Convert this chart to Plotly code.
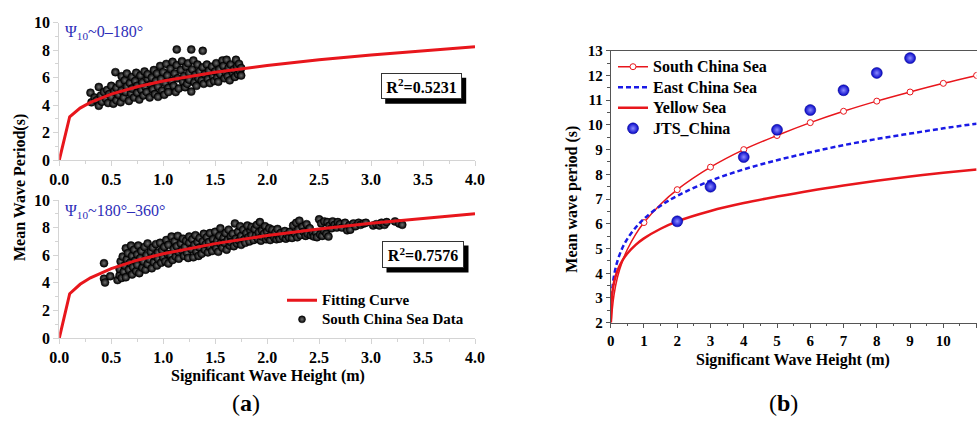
import plotly.graph_objects as go

# ---------------- Panel (a) data ----------------
FIT_H = [0, 0.1, 0.2, 0.3, 0.5, 0.75, 1.0, 1.5, 2.0, 2.5, 3.0, 3.5, 4.0]
FIT_T_TOP = [0, 3.15, 3.78, 4.19, 4.80, 5.33, 5.75, 6.39, 6.88, 7.30, 7.65, 7.97, 8.25]
FIT_T_BOT = [0, 3.21, 3.89, 4.36, 5.03, 5.64, 6.11, 6.84, 7.42, 7.90, 8.31, 8.68, 9.00]

TOP_PTS = [
    (0.30,4.90),(0.31,4.20),(0.34,4.55),(0.36,4.35),(0.38,5.32),(0.38,3.95),(0.40,4.70),(0.41,4.25),(0.43,4.95),
    (0.45,4.45),(0.46,5.10),(0.47,4.15),(0.48,4.80),(0.50,5.40),(0.50,4.60),(0.52,4.10),(0.53,5.00),(0.54,6.40),(0.55,4.35),(0.55,5.25),
    (0.57,4.75),(0.58,5.55),(0.59,4.20),(0.60,6.10),(0.60,5.05),(0.62,4.55),(0.63,5.80),(0.64,4.95),(0.65,6.30),(0.65,5.35),
    (0.67,4.30),(0.68,5.60),(0.69,4.85),(0.70,6.05),(0.70,5.20),(0.72,4.55),(0.73,5.75),(0.74,6.35),(0.75,4.90),(0.75,5.40),
    (0.77,4.40),(0.78,6.15),(0.79,5.10),(0.80,5.65),(0.81,4.70),(0.82,6.45),(0.83,5.30),(0.84,4.95),(0.85,5.90),(0.85,6.25),
    (0.87,4.55),(0.88,5.50),(0.89,6.00),(0.90,5.15),(0.91,6.55),(0.92,4.80),(0.93,5.75),(0.94,6.30),(0.95,5.35),(0.95,4.60),
    (0.97,6.85),(0.98,5.90),(0.99,5.05),(1.00,6.40),(1.01,4.75),(1.02,5.60),(1.03,7.00),(1.04,6.15),(1.05,5.25),(1.05,4.95),
    (1.07,6.65),(1.08,5.75),(1.09,7.15),(1.10,5.40),(1.11,6.30),(1.12,4.95),(1.13,8.05),(1.13,6.90),(1.14,5.95),(1.15,5.20),
    (1.17,6.55),(1.18,7.20),(1.19,5.70),(1.20,6.10),(1.21,5.30),(1.22,6.80),(1.23,5.55),(1.24,7.05),(1.25,6.35),(1.25,5.85),
    (1.27,8.05),(1.27,4.98),(1.28,6.60),(1.29,7.25),(1.30,5.65),(1.31,6.20),(1.32,5.40),(1.33,6.95),(1.34,5.95),(1.35,6.45),
    (1.37,5.80),(1.38,7.95),(1.38,6.75),(1.39,5.55),(1.40,6.25),(1.42,6.95),(1.43,5.90),(1.44,6.50),(1.45,5.60),
    (1.47,6.80),(1.48,6.10),(1.49,5.75),(1.50,6.45),(1.51,7.05),(1.52,6.00),(1.53,5.70),(1.54,6.60),(1.55,6.25),
    (1.57,7.25),(1.58,6.85),(1.59,5.95),(1.60,6.40),(1.61,7.30),(1.62,6.10),(1.63,6.70),(1.64,5.80),(1.65,6.95),
    (1.67,6.35),(1.68,6.60),(1.69,6.05),(1.70,7.30),(1.71,6.80),(1.72,6.25),(1.73,7.00),(1.74,6.45),(1.75,6.15),(1.75,6.70),
]

BOT_PTS = [
    (0.43,5.42),(0.43,4.30),(0.44,4.02),(0.49,4.48),
    (0.56,4.20),(0.58,4.55),(0.58,5.00),(0.59,5.55),(0.60,4.35),(0.61,5.90),(0.62,4.80),(0.63,5.25),(0.64,6.50),(0.64,4.40),(0.65,5.70),(0.66,6.15),
    (0.67,4.95),(0.68,5.45),(0.69,6.70),(0.70,4.60),(0.70,5.95),(0.71,5.15),(0.72,6.40),(0.73,5.60),(0.74,4.85),(0.75,6.05),(0.75,5.30),(0.76,6.70),
    (0.77,4.70),(0.78,5.80),(0.79,6.30),(0.80,5.10),(0.81,5.55),(0.82,6.60),(0.83,4.95),(0.84,6.00),(0.85,5.35),(0.85,6.85),
    (0.87,5.70),(0.88,6.25),(0.89,5.05),(0.90,6.55),(0.91,5.50),(0.92,5.95),(0.93,6.80),(0.94,5.25),(0.95,6.20),(0.95,5.75),
    (0.97,6.90),(0.98,5.45),(0.99,6.35),(1.00,5.85),(1.01,6.60),(1.02,5.55),(1.03,7.10),(1.04,6.10),(1.05,5.40),(1.05,6.75),
    (1.07,6.00),(1.08,7.35),(1.09,5.65),(1.10,6.45),(1.11,7.00),(1.12,5.90),(1.13,6.65),(1.14,7.40),(1.15,6.20),(1.15,5.75),
    (1.17,6.85),(1.18,6.35),(1.19,7.20),(1.20,5.95),(1.21,6.60),(1.22,7.05),(1.23,6.15),(1.24,5.80),(1.25,6.90),(1.25,7.35),
    (1.27,6.45),(1.28,7.15),(1.29,5.85),(1.30,6.75),(1.31,7.45),(1.32,6.25),(1.33,6.95),(1.34,5.95),(1.35,7.25),(1.35,6.55),
    (1.37,6.10),(1.38,7.00),(1.39,7.55),(1.40,6.40),(1.41,6.80),(1.42,7.30),(1.43,6.20),(1.44,6.95),(1.45,7.60),(1.45,6.60),
    (1.47,6.30),(1.48,7.15),(1.49,6.75),(1.50,7.70),(1.51,6.50),(1.52,7.05),(1.53,6.25),(1.54,7.40),(1.55,6.85),(1.55,7.95),
    (1.57,6.55),(1.58,7.25),(1.59,6.90),(1.60,7.60),(1.61,6.40),(1.62,7.10),(1.63,7.85),(1.64,6.70),(1.65,7.35),(1.65,6.95),
    (1.67,7.55),(1.68,6.65),(1.69,8.30),(1.70,7.20),(1.71,6.85),(1.72,7.70),(1.73,7.05),(1.74,8.10),(1.75,7.40),(1.75,6.75),
    (1.77,7.85),(1.78,7.15),(1.79,6.90),(1.80,7.60),(1.81,8.15),(1.82,7.30),(1.83,7.00),(1.84,7.75),(1.85,8.05),(1.85,7.45),
    (1.87,7.10),(1.88,7.90),(1.89,7.40),(1.90,8.20),(1.91,7.20),(1.92,7.65),(1.93,8.40),(1.94,7.05),(1.95,7.80),(1.95,7.35),
    (1.97,7.55),(1.98,8.10),(1.99,7.15),(2.00,7.70),(2.01,7.30),(2.02,7.95),(2.03,7.10),(2.04,7.50),(2.05,7.85),
    (2.07,7.25),(2.08,7.65),(2.09,7.15),(2.10,7.90),(2.11,7.40),(2.12,7.20),(2.13,7.60),(2.15,7.35),
    (2.17,7.75),(2.18,7.20),(2.19,7.50),(2.21,7.30),(2.22,7.70),(2.24,7.25),(2.25,8.15),
    (2.27,7.55),(2.28,8.35),(2.29,7.30),(2.30,7.85),(2.31,8.50),(2.32,7.45),(2.34,8.05),(2.35,7.70),
    (2.37,7.40),(2.38,8.25),(2.39,7.55),(2.41,7.95),(2.42,7.45),(2.44,7.60),(2.45,7.35),
    (2.47,7.65),(2.48,7.30),(2.50,8.60),(2.51,7.50),(2.52,8.30),(2.53,7.40),(2.55,7.75),(2.55,8.45),
    (2.57,7.55),(2.58,8.40),(2.59,7.35),(2.60,8.15),(2.62,7.95),(2.63,8.45),(2.65,8.20),
    (2.67,8.00),(2.68,8.40),(2.70,8.25),(2.72,8.00),(2.75,8.35),(2.77,7.80),(2.79,8.15),(2.80,7.85),
    (2.83,8.30),(2.85,8.10),(2.88,8.35),(2.90,8.20),(2.93,8.30),(2.95,8.35),
    (3.02,8.15),(3.05,8.25),(3.08,8.15),(3.10,8.35),(3.13,8.20),(3.15,8.40),(3.23,8.45),(3.27,8.30),(3.30,8.20),
]

# ---------------- Panel (b) data ----------------
SCS_H = [0.02, 0.05, 0.1, 0.2, 0.35, 0.5, 0.75, 1, 1.5, 2, 3, 4, 5, 6, 7, 8, 9, 10, 11]
SCS_T = [2.00, 2.57, 3.13, 3.82, 4.48, 4.96, 5.57, 6.05, 6.79, 7.38, 8.29, 9.00, 9.57, 10.09, 10.55, 10.96, 11.33, 11.68, 12.00]
SCS_MARK_H = [1, 2, 3, 4, 5, 6, 7, 8, 9, 10, 11]
SCS_MARK_T = [6.05, 7.38, 8.29, 9.00, 9.57, 10.09, 10.55, 10.96, 11.33, 11.68, 12.00]

ECS_H = [0.03, 0.05, 0.1, 0.2, 0.35, 0.5, 0.75, 1, 1.5, 2, 3, 4, 5, 6, 7, 8, 9, 10, 11]
ECS_T = [3.06, 3.39, 3.90, 4.48, 5.02, 5.39, 5.85, 6.20, 6.73, 7.13, 7.74, 8.20, 8.57, 8.89, 9.18, 9.43, 9.65, 9.86, 10.05]

YS_H = [0.005, 0.01, 0.03, 0.05, 0.1, 0.2, 0.35, 0.5, 0.75, 1, 1.5, 2, 3, 4, 5, 6, 7, 8, 9, 10, 11]
YS_T = [2.16, 2.43, 2.94, 3.22, 3.63, 4.09, 4.51, 4.80, 5.15, 5.41, 5.80, 6.10, 6.52, 6.84, 7.10, 7.34, 7.55, 7.74, 7.91, 8.06, 8.20]

JTS_H = [2, 3, 4, 5, 6, 7, 8, 9]
JTS_T = [6.1, 7.5, 8.7, 9.8, 10.6, 11.4, 12.1, 12.7]

# ---------------- styling ----------------
W, H = 977, 421
RED = "#e8161c"
BLUE = "#1a1ae6"
SERIF = "Liberation Serif"

def px(x):
    return x / W

def py(y):
    return 1 - y / H

BLACK_BALL = dict(color="#000000", size=8, gradient=dict(type="radial", color="#707070"),
                  line=dict(color="#000000", width=0.5))
BLUE_BALL = dict(color="#0505c8", size=11, gradient=dict(type="radial", color="#8c8cff"),
                 line=dict(color="#00008a", width=0.5))

fig = go.Figure()

# Panel (a) top
fig.add_trace(go.Scatter(x=[p[0] for p in TOP_PTS], y=[p[1] for p in TOP_PTS], mode="markers",
                         marker=BLACK_BALL, xaxis="x", yaxis="y", showlegend=False))
fig.add_trace(go.Scatter(x=FIT_H, y=FIT_T_TOP, mode="lines", line=dict(color=RED, width=3),
                         xaxis="x", yaxis="y", showlegend=False))
# Panel (a) bottom
fig.add_trace(go.Scatter(x=[p[0] for p in BOT_PTS], y=[p[1] for p in BOT_PTS], mode="markers",
                         marker=BLACK_BALL, xaxis="x2", yaxis="y2", showlegend=False))
fig.add_trace(go.Scatter(x=FIT_H, y=FIT_T_BOT, mode="lines", line=dict(color=RED, width=3),
                         xaxis="x2", yaxis="y2", showlegend=False))

def lg(txt, size):
    return f"<span style='font-size:{size}px'>{txt}</span>"

# legend entries (a)
fig.add_trace(go.Scatter(x=[None], y=[None], mode="lines", line=dict(color=RED, width=3),
                         name=lg("Fitting Curve", 15), xaxis="x2", yaxis="y2", legend="legend"))
fig.add_trace(go.Scatter(x=[None], y=[None], mode="markers", marker=dict(BLACK_BALL, size=7),
                         name=lg("South China Sea Data", 15), xaxis="x2", yaxis="y2", legend="legend"))

# Panel (b)
fig.add_trace(go.Scatter(x=SCS_H, y=SCS_T, mode="lines", line=dict(color=RED, width=1.5, shape="spline"),
                         xaxis="x3", yaxis="y3", showlegend=False))
fig.add_trace(go.Scatter(x=SCS_MARK_H, y=SCS_MARK_T, mode="markers",
                         marker=dict(symbol="circle", size=6, color="white", line=dict(color=RED, width=1)),
                         xaxis="x3", yaxis="y3", showlegend=False))
fig.add_trace(go.Scatter(x=ECS_H, y=ECS_T, mode="lines",
                         line=dict(color=BLUE, width=2.5, dash="5px,3px", shape="spline"),
                         xaxis="x3", yaxis="y3", showlegend=False))
fig.add_trace(go.Scatter(x=YS_H, y=YS_T, mode="lines", line=dict(color=RED, width=2.5, shape="spline"),
                         xaxis="x3", yaxis="y3", showlegend=False))
fig.add_trace(go.Scatter(x=JTS_H, y=JTS_T, mode="markers", marker=BLUE_BALL,
                         xaxis="x3", yaxis="y3", showlegend=False))
# legend entries (b)
fig.add_trace(go.Scatter(x=[None], y=[None], mode="lines+markers", name=lg("South China Sea", 16),
                         line=dict(color=RED, width=1.5),
                         marker=dict(symbol="circle", size=6, color="white", line=dict(color=RED, width=1)),
                         xaxis="x3", yaxis="y3", legend="legend2"))
fig.add_trace(go.Scatter(x=[None], y=[None], mode="lines", name=lg("East China Sea", 16),
                         line=dict(color=BLUE, width=2.5, dash="5px,3px"),
                         xaxis="x3", yaxis="y3", legend="legend2"))
fig.add_trace(go.Scatter(x=[None], y=[None], mode="lines", name=lg("Yellow Sea", 16),
                         line=dict(color=RED, width=2.5),
                         xaxis="x3", yaxis="y3", legend="legend2"))
fig.add_trace(go.Scatter(x=[None], y=[None], mode="markers", name=lg("JTS_China", 16), marker=BLUE_BALL,
                         xaxis="x3", yaxis="y3", legend="legend2"))

tickfont_a = dict(family=SERIF, size=16, color="black", weight="bold")
tickfont_b = dict(family=SERIF, size=15, color="black", weight="bold")
LIGHT = "#d4d4d4"

xa = dict(domain=[px(59.3), px(475)], range=[0, 4], dtick=0.5, tick0=0, tickformat=".1f",
          showline=True, linecolor=LIGHT, linewidth=1, ticks="outside", ticklen=5, tickcolor=LIGHT,
          minor=dict(dtick=0.25, ticklen=3, tickcolor=LIGHT, ticks="outside"),
          showgrid=False, zeroline=False, tickfont=tickfont_a, fixedrange=True, automargin=False)
ya = dict(range=[0, 10], dtick=2, tick0=0,
          showline=True, linecolor=LIGHT, linewidth=1, ticks="outside", ticklen=5, tickcolor=LIGHT,
          minor=dict(dtick=1, ticklen=3, tickcolor=LIGHT, ticks="outside"),
          showgrid=False, zeroline=False, tickfont=tickfont_a, fixedrange=True, automargin=False)

FRAME = "#555555"
LEG_A_FS = 11.8   # sets row pitch (~18.3 px)
LEG_B_FS = 13.5   # sets row pitch (~20.5 px)
fig.update_layout(
    width=W, height=H, margin=dict(l=0, r=0, t=0, b=0, autoexpand=False),
    paper_bgcolor="white", plot_bgcolor="white",
    xaxis=dict(xa, anchor="y"),
    yaxis=dict(ya, domain=[py(160), py(22.7)], anchor="x"),
    xaxis2=dict(xa, anchor="y2"),
    yaxis2=dict(ya, domain=[py(338), py(200)], anchor="x2"),
    xaxis3=dict(domain=[px(610.7), px(976.6)], range=[0, 11], dtick=1, tick0=0, anchor="y3",
                showline=True, mirror=True, linecolor=FRAME, linewidth=1, ticks="outside", ticklen=4,
                tickcolor=FRAME, minor=dict(dtick=0.5, ticklen=2.5, tickcolor=FRAME, ticks="outside"),
                showgrid=False, zeroline=False, tickfont=tickfont_b, fixedrange=True, automargin=False),
    yaxis3=dict(domain=[py(322.7), py(50.7)], range=[2, 13], dtick=1, tick0=0, anchor="x3",
                showline=True, mirror=True, linecolor=FRAME, linewidth=1, ticks="outside", ticklen=4,
                tickcolor=FRAME, minor=dict(dtick=0.5, ticklen=2.5, tickcolor=FRAME, ticks="outside"),
                showgrid=False, zeroline=False, tickfont=tickfont_b, fixedrange=True, automargin=False),
    legend=dict(x=px(282), y=py(300 - 5 - (1.3 * LEG_A_FS + 3) / 2), xanchor="left", yanchor="top",
                bgcolor="rgba(0,0,0,0)", borderwidth=0,
                font=dict(family=SERIF, size=LEG_A_FS, color="black", weight="bold")),
    legend2=dict(x=px(613), y=py(66.7 - 5 - (1.3 * LEG_B_FS + 3) / 2), xanchor="left", yanchor="top",
                 bgcolor="rgba(0,0,0,0)", borderwidth=0,
                 font=dict(family=SERIF, size=LEG_B_FS, color="black", weight="bold")),
)

BOLD16 = dict(family=SERIF, size=16, color="black", weight="bold")

def note(text, x, y, font, **kw):
    d = dict(text=text, x=px(x), y=py(y), xref="paper", yref="paper", showarrow=False,
             xanchor="center", yanchor="middle", font=font)
    d.update(kw)
    return d

ann = []
ann.append(note("Mean Wave Period(s)", 20, 188, BOLD16, textangle=-90))
ann.append(note("Significant Wave Height (m)", 267.5, 376, BOLD16))
ann.append(note("Mean wave period (s)", 571.7, 199, BOLD16, textangle=-90))
ann.append(note("Significant Wave Height (m)", 793.4, 359.5, BOLD16))
PSI_FONT = dict(family=SERIF, size=16, color="#2e2eb8")
ann.append(note("Ψ<sub>10</sub>~0–180°", 63, 32, PSI_FONT, xanchor="left"))
ann.append(note("Ψ<sub>10</sub>~180°–360°", 63, 211, PSI_FONT, xanchor="left"))
# R^2 boxes with drop shadows
boxes = [((380.7, 461.7, 73.3, 99.3), "R<sup>2</sup>=0.5231"),
         ((382.0, 464.0, 241.0, 268.0), "R<sup>2</sup>=0.7576")]
shapes = []
for (x0, x1, y0, y1), txt in boxes:
    shapes.append(dict(type="rect", xref="paper", yref="paper",
                       x0=px(x0 + 4.5), x1=px(x1 + 4.5), y0=py(y1 + 4.5), y1=py(y0 + 4.5),
                       fillcolor="black", line=dict(width=0), layer="above"))
    ann.append(note(txt, (x0 + x1) / 2, (y0 + y1) / 2, BOLD16,
                    bgcolor="white", bordercolor="#333333", borderwidth=1, borderpad=0,
                    width=x1 - x0 - 2, height=y1 - y0 - 2))
ann.append(note("(<b>a</b>)", 246.5, 403, dict(family=SERIF, size=24, color="black")))
ann.append(note("(<b>b</b>)", 783.5, 403, dict(family=SERIF, size=24, color="black")))

fig.update_layout(annotations=ann, shapes=shapes)
# remove the browser's default 8px body margin so the figure sits at the page origin
fig.write_html("out.html", config={"displayModeBar": False},
               post_script="document.body.style.margin='0px';document.body.style.overflow='hidden';")
